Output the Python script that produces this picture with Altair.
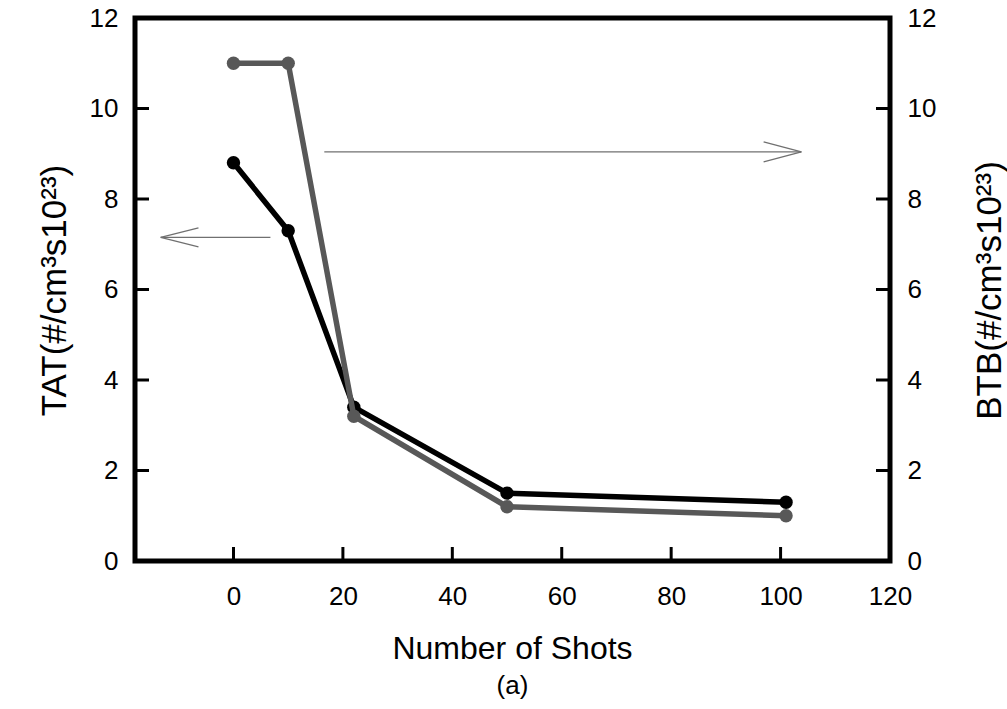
import altair as alt
import pandas as pd

FONT = "Liberation Sans"

# ---- data ----
shots = [0, 10, 22, 50, 101]
tat = [8.8, 7.3, 3.4, 1.5, 1.3]      # left axis (black)
btb = [11.0, 11.0, 3.2, 1.2, 1.0]    # right axis (gray)

x_ticks = [0, 20, 40, 60, 80, 100, 120]
x_inner_ticks = [0, 20, 40, 60, 80, 100]
y_ticks = [0, 2, 4, 6, 8, 10, 12]
y_inner_ticks = [2, 4, 6, 8, 10]

# arrow segments (data units): shaft + two wings each
arrow_x = [6.75, -13.3, -13.3, 16.6, 103.8, 103.8]
arrow_y = [7.15, 7.15, 7.15, 9.04, 9.04, 9.04]
arrow_x2 = [-13.3, -6.4, -6.4, 103.8, 96.9, 96.9]
arrow_y2 = [7.15, 7.36, 6.94, 9.04, 9.26, 8.82]

W, H = 755, 543

df_tat = pd.DataFrame({"shots": shots, "val": tat})
df_btb = pd.DataFrame({"shots": shots, "val": btb})
df_arrows = pd.DataFrame({"x": arrow_x, "y": arrow_y, "x2": arrow_x2, "y2": arrow_y2})
df_xt = pd.DataFrame({"t": x_inner_ticks})
df_yt = pd.DataFrame({"t": y_inner_ticks})

xscale = alt.Scale(domain=[-18, 120], nice=False, zero=False)
yscale = alt.Scale(domain=[0, 12], nice=False, zero=False)

axis_common = dict(
    grid=False, domain=False, ticks=False, tickSize=0,
    labelFont=FONT, labelFontSize=26, labelColor="black",
    titleFont=FONT, titleFontWeight="normal", titleColor="black",
    labelOverlap=False, labelFlush=False, labelBound=False,
)

x_axis = alt.Axis(
    values=x_ticks, labelPadding=22, title="Number of Shots", titleFontSize=32,
    titleX=377, titleY=97, titleBaseline="alphabetic", titleAlign="center",
    **axis_common,
)

left_axis = alt.Axis(
    values=y_ticks, orient="left", labelPadding=17, titleFontSize=35,
    title="TAT(#/cm³s10²³)", titleAngle=270, titleX=-70, titleY=272,
    titleAlign="center", titleBaseline="alphabetic", **axis_common,
)
right_axis = alt.Axis(
    values=y_ticks, orient="right", labelPadding=17, titleFontSize=35,
    title="BTB(#/cm³s10²³)", titleAngle=270, titleX=110, titleY=272,
    titleAlign="center", titleBaseline="alphabetic", **axis_common,
)

tat_line = alt.Chart(df_tat).mark_line(
    color="black", strokeWidth=5.5,
    point=alt.OverlayMarkDef(filled=True, size=180, color="black", opacity=1),
).encode(
    x=alt.X("shots:Q", scale=xscale, axis=x_axis),
    y=alt.Y("val:Q", scale=yscale, axis=left_axis),
)

arrows = alt.Chart(df_arrows).mark_rule(color="#707070", strokeWidth=1.3).encode(
    x=alt.X("x:Q", scale=xscale, axis=x_axis),
    y=alt.Y("y:Q", scale=yscale, axis=left_axis),
    x2="x2:Q",
    y2="y2:Q",
)

x_tick_marks = alt.Chart(df_xt).mark_rule(color="black", strokeWidth=3).encode(
    x=alt.X("t:Q", scale=xscale, axis=x_axis),
    y=alt.value(H),
    y2=alt.value(H - 14),
)

left_tick_marks = alt.Chart(df_yt).mark_rule(color="black", strokeWidth=3).encode(
    y=alt.Y("t:Q", scale=yscale, axis=left_axis),
    x=alt.value(0),
    x2=alt.value(14),
)

layer_left = alt.layer(arrows, x_tick_marks, left_tick_marks, tat_line)

btb_line = alt.Chart(df_btb).mark_line(
    color="#585858", strokeWidth=5.5,
    point=alt.OverlayMarkDef(filled=True, size=180, color="#585858", opacity=1),
).encode(
    x=alt.X("shots:Q", scale=xscale, axis=x_axis),
    y=alt.Y("val:Q", scale=yscale, axis=right_axis),
)

right_tick_marks = alt.Chart(df_yt).mark_rule(color="black", strokeWidth=3).encode(
    y=alt.Y("t:Q", scale=yscale, axis=right_axis),
    x=alt.value(W - 14),
    x2=alt.value(W),
)

layer_right = alt.layer(right_tick_marks, btb_line)

chart = alt.layer(layer_left, layer_right).resolve_scale(
    y="independent"
).properties(
    width=W, height=H,
    autosize="none",
    background="white",
    padding={"left": 135, "top": 18, "right": 117, "bottom": 148},
    title=alt.TitleParams(
        "(a)", orient="bottom", anchor="middle", font=FONT, fontSize=26,
        fontWeight="normal", color="black", offset=9,
    ),
).configure_view(
    stroke="black", strokeWidth=5
)

chart.save("out.html", embed_options={"renderer": "svg", "actions": False})
